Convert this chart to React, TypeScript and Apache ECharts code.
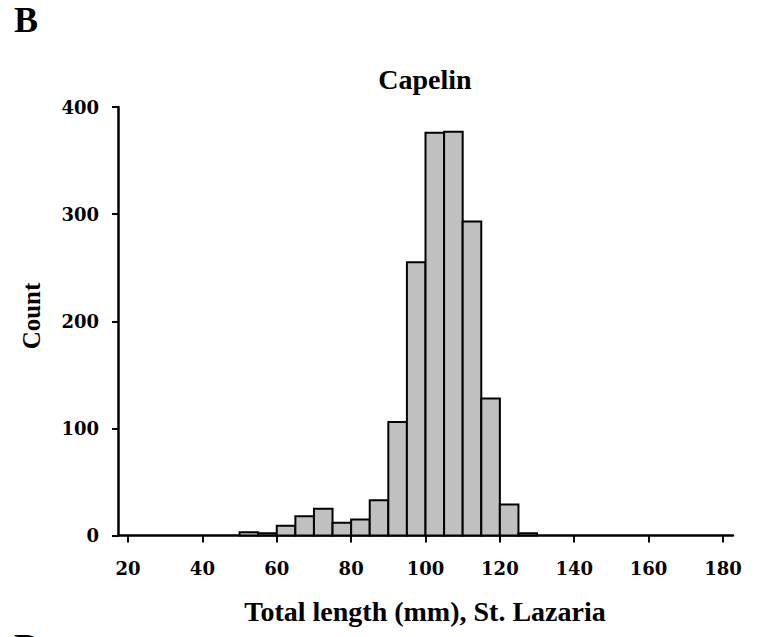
import React, { useEffect, useRef } from "react";
import * as echarts from "echarts";

const binStarts = [50, 55, 60, 65, 70, 75, 80, 85, 90, 95, 100, 105, 110, 115, 120, 125];
const counts = [3, 2, 9, 18, 25, 12, 15, 33, 106, 255, 376, 377, 293, 128, 29, 2];
const binWidth = 5;
const xTicks = [20, 40, 60, 80, 100, 120, 140, 160, 180];
const yTicks = [0, 100, 200, 300, 400];

const chartTitle = "Capelin";
const xTitle = "Total length (mm), St. Lazaria";
const yTitle = "Count";

export default function App() {
  const ref = useRef<HTMLDivElement>(null);
  useEffect(() => {
    if (!ref.current) return;
    const chart = echarts.init(ref.current, null, { renderer: "svg" });
    const tickFont = { fontFamily: "DejaVu Serif", fontWeight: "bold" as const, fontSize: 18, color: "#000" };
    chart.setOption({
      animation: false,
      backgroundColor: "#fff",
      grid: { left: 118, right: 26, top: 107, bottom: 101.5, containLabel: false, outerBoundsMode: "none" },
      xAxis: {
        type: "value",
        min: 17.3,
        max: 182.7,
        axisLine: { show: true, lineStyle: { color: "#000", width: 2.5 } },
        axisTick: { show: true, inside: false, length: 7, customValues: xTicks, lineStyle: { color: "#000", width: 2 } },
        axisLabel: { customValues: xTicks, margin: 24, ...tickFont },
        splitLine: { show: false },
      },
      yAxis: {
        type: "value",
        min: 0,
        max: 400,
        interval: 100,
        axisLine: { show: true, lineStyle: { color: "#000", width: 2.5 } },
        axisTick: { show: true, inside: false, length: 6, customValues: yTicks, lineStyle: { color: "#000", width: 2 } },
        axisLabel: { customValues: yTicks, margin: 19, ...tickFont },
        splitLine: { show: false },
      },
      series: [
        {
          type: "custom",
          data: binStarts.map((s, i) => [s, counts[i]]),
          renderItem: (params: any, api: any) => {
            const x0 = api.value(0);
            const y = api.value(1);
            const p0 = api.coord([x0, y]);
            const p1 = api.coord([x0 + binWidth, 0]);
            return {
              type: "rect",
              shape: { x: p0[0], y: p0[1], width: p1[0] - p0[0], height: p1[1] - p0[1] },
              style: { fill: "#c0c0c0", stroke: "#000", lineWidth: 2 },
            };
          },
        },
      ],
      graphic: [
        {
          type: "text",
          left: 14,
          top: 2,
          style: { text: "B", font: "bold 36px 'Liberation Serif'", fill: "#000" },
        },
        {
          type: "text",
          left: 14,
          top: 629,
          style: { text: "D", font: "bold 36px 'Liberation Serif'", fill: "#000" },
        },
        {
          type: "text",
          x: 425,
          y: 65,
          style: { text: chartTitle, font: "bold 28px 'Liberation Serif'", fill: "#000", textAlign: "center", textVerticalAlign: "top" },
        },
        {
          type: "text",
          x: 425,
          y: 597,
          style: { text: xTitle, font: "bold 28px 'Liberation Serif'", fill: "#000", textAlign: "center", textVerticalAlign: "top" },
        },
        {
          type: "text",
          x: 31,
          y: 316,
          rotation: Math.PI / 2,
          style: { text: yTitle, font: "bold 25px 'Liberation Serif'", fill: "#000", textAlign: "center", textVerticalAlign: "middle" },
        },
      ],
    });
    return () => chart.dispose();
  }, []);
  return <div ref={ref} style={{ position: "absolute", left: 0, top: 0, width: 759, height: 637 }} />;
}
